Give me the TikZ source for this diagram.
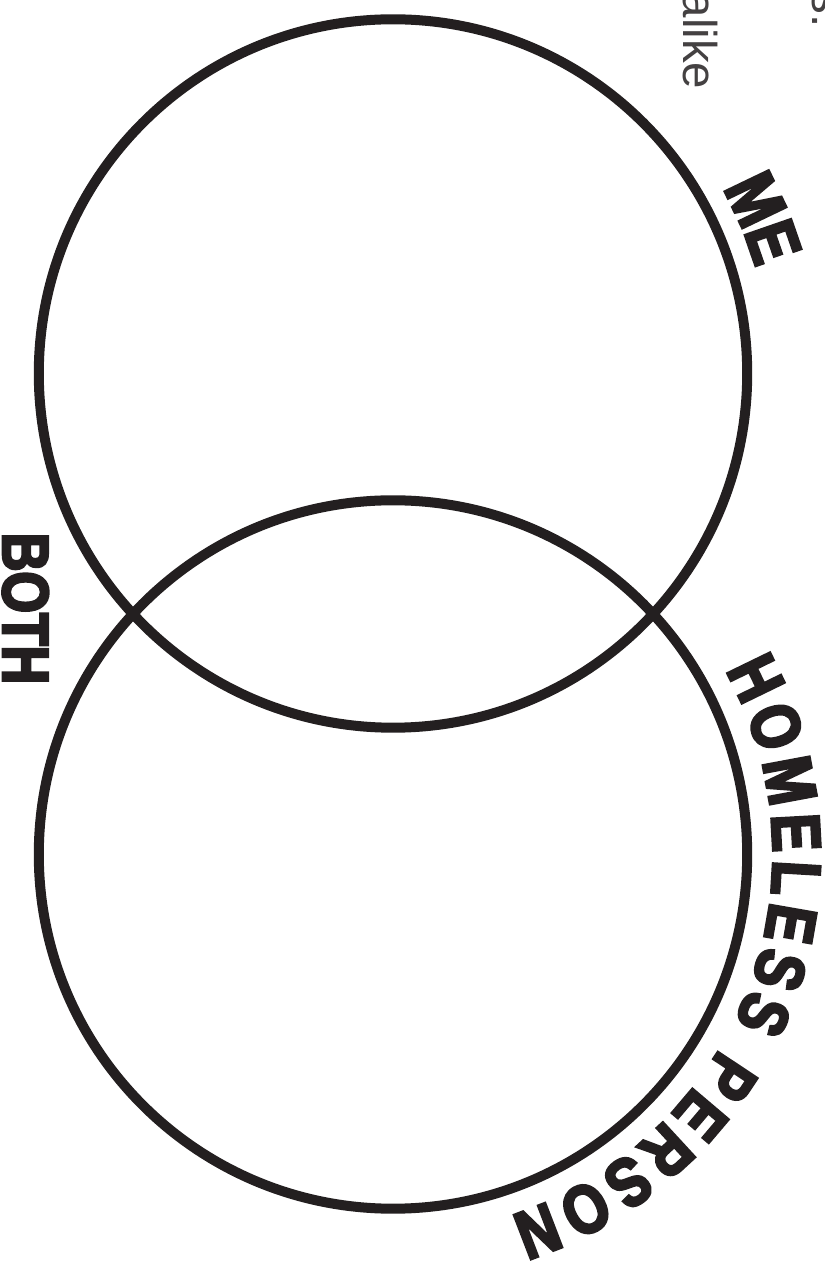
\documentclass[tikz,border=0pt]{standalone}
\usepackage{fontspec}
\setmainfont{Liberation Sans}
\newfontfamily\heavyfont[FakeStretch=0.82,FakeBold=4]{Liberation Sans Bold}
\usetikzlibrary{decorations.text}
\definecolor{ink}{HTML}{231F20}

\begin{document}
\begin{tikzpicture}[
        x=0.01cm, y=0.01cm,
        ring/.style={circle, draw=ink, line width=1mm, minimum size=7.08cm, inner sep=0pt},
        side label/.style={text=ink, font=\heavyfont\fontsize{18.5}{18.5}\selectfont, rotate=-90, inner sep=0pt},
        page text/.style={text=ink!85, font=\fontsize{13.5}{13.5}\selectfont, rotate=-90, inner sep=0pt, anchor=base east},
        arc label/.style={decorate, decoration={text along path, text color=ink, #1}},
    ]

    % page frame, cut at the edges
    \useasboundingbox (0,0) rectangle (825,1266);
    \clip (0,0) rectangle (825,1266);

    % leftover words of the page text
    \node[page text] (alike) at (683,1176) {alike};
    \node[page text] (tail) at (812,1238) {s.};

    % the two circles
    \foreach \name/\cy in {me/892.5, homeless/411.5} {
        \node[ring] (\name) at (393,\cy) {};
    }

    % label for the overlap
    \node[side label, anchor=base] (both) at (3,657.5) {BOTH};

    % curved labels outside the circles
    \path[arc label={text align=center,
            text={|\heavyfont\fontsize{20}{20}\selectfont|ME}}]
        ([shift={(38:378)}]me.center) arc[start angle=38, end angle=7.5, radius=378];
    \path[arc label={text align={fit to path},
            text={|\heavyfont\fontsize{19.5}{19.5}\selectfont|HOMELESS PERSON}}]
        ([shift={(29:380)}]homeless.center) arc[start angle=29, end angle=-72, radius=380];

\end{tikzpicture}
\end{document}
